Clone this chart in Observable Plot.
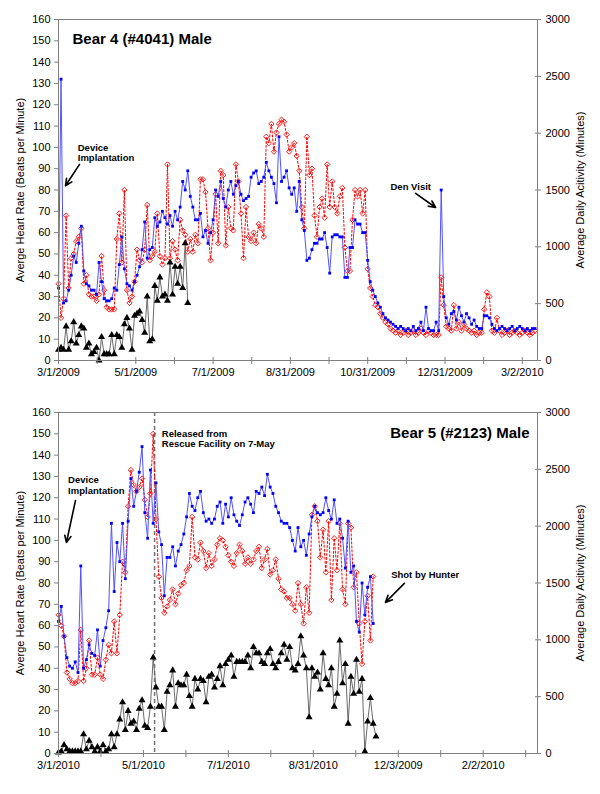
<!DOCTYPE html>
<html><head><meta charset="utf-8">
<script src="https://cdn.jsdelivr.net/npm/d3@7"></script>
<script src="https://cdn.jsdelivr.net/npm/@observablehq/plot@0.6"></script>
<style>
body{margin:0;background:#fff;}
#chart{width:600px;}
#chart svg{display:block;}
.panel{position:relative;width:600px;}
.ylab{position:absolute;font-family:Arial,'Liberation Sans',sans-serif;font-size:11px;color:#000;
  white-space:nowrap;transform:translate(-50%,-50%) rotate(-90deg);line-height:1;}
</style>
</head><body><div id="chart"></div>
<script>
// sampling interval (days) of all series arrays below
const step = 2;

// ---- Bear 4 (#4041), starting 3/1/2009 ----
const bear4Blue = [
34,132,27,28,33,40,49,46,55,63,
42,36,35,33,33,31,46,37,29,28,
28,29,34,33,45,58,43,36,35,33,
37,40,44,52,65,48,52,53,67,63,
65,70,67,64,68,63,70,66,72,84,
80,89,77,72,66,66,69,58,61,55,
60,66,80,77,84,76,72,80,84,78,
82,84,78,75,76,77,86,88,89,83,
84,86,93,89,86,83,74,105,84,86,
89,81,78,81,70,84,66,61,47,48,
52,55,55,57,57,60,53,41,58,59,
59,58,58,39,39,53,53,66,64,64,
60,60,47,37,33,30,27,25,22,20,
19,18,17,16,15,16,15,14,15,14,
16,14,15,18,14,25,15,14,14,18,
14,80,30,20,17,22,23,19,25,21,
18,22,20,17,19,16,15,15,21,21,
20,17,15,14,15,16,15,14,15,16,
14,15,16,15,14,15,14,15,15];
const bear4Red = [
36,20,29,68,34,48,50,56,58,62,
36,40,31,30,30,28,31,49,33,25,
24,24,24,57,69,46,80,33,27,30,
37,52,47,46,52,73,47,49,51,69,
49,45,48,92,48,56,52,47,66,61,
59,51,57,51,59,55,85,85,79,62,
47,60,78,55,89,87,54,72,62,61,
92,84,69,48,72,58,56,60,55,64,
62,58,105,102,111,98,107,111,113,112,
106,98,100,102,96,89,72,62,105,87,
90,68,58,72,76,67,92,72,84,72,
69,77,81,53,42,42,66,80,77,80,
69,80,43,34,30,26,25,22,20,18,
17,15,14,13,14,12,13,14,12,13,
14,12,13,15,13,12,14,13,12,12,
12,39,26,16,15,14,26,15,18,14,
17,15,14,13,14,12,13,13,24,32,
30,14,13,20,14,12,13,14,12,13,
14,13,12,13,14,13,12,13,14];
const bear4Black = [
5,6,5,16,5,9,18,8,12,16,
15,6,8,3,4,6,0,11,3,3,
3,12,3,12,11,6,17,20,15,5,
21,22,23,19,13,30,9,10,35,28,
39,30,31,28,46,31,44,36,44,34,
55,27];

// ---- Bear 5 (#2123), starting 3/1/2010 ----
const bear5Blue = [
62,69,55,45,41,40,43,38,88,40,
44,51,47,46,58,41,53,59,67,108,
76,99,90,108,82,109,129,116,123,132,
144,113,101,133,108,127,104,98,74,92,
92,97,88,95,98,103,111,122,116,114,
120,123,113,109,110,108,110,116,118,108,
117,111,120,112,109,107,112,118,120,117,
113,123,122,125,121,131,125,122,116,113,
109,108,108,106,100,95,106,97,100,93,
103,111,116,113,112,113,120,114,110,119,
108,110,101,87,109,85,88,62,57,80,
65,78,83,61];
const bear5Red = [
65,60,55,38,35,33,33,34,58,34,
40,53,37,37,45,37,35,44,51,47,
62,47,65,90,85,116,133,126,123,125,
129,119,111,122,150,110,83,73,66,69,
72,77,70,75,79,80,86,88,111,92,
91,99,95,87,94,88,91,98,101,100,
97,93,90,88,94,98,95,89,92,89,
91,95,97,87,91,96,84,86,91,82,
77,76,73,73,70,67,80,70,61,78,
66,112,116,109,92,105,85,109,72,101,
86,108,77,70,108,106,78,85,61,42,
62,74,53,83];
const bear5Black = [
0.5,1,4,2,1,1,1,1,1,9,
2,6,3,1,3,1,4,1,2,9,
3,9,16,24,11,20,14,15,11,21,
25,13,12,22,45,31,22,22,11,29,
32,39,22,33,32,32,37,27,22,35,
30,35,34,24,36,37,31,35,41,32,
42,44,46,36,43,43,43,43,46,40,
50,47,47,43,42,47,49,42,40,43,
47,51,44,50,40,39,42,55,46,40,
17,40,36,38,30,47,35,32,40,22,
28,53,33,42,14,36,28,44,29,35,
1,15,26,14,8];

// ---- axes ----
const leftTicks = [0,10,20,30,40,50,60,70,80,90,100,110,120,130,140,150,160];
const rightTicks = [0,500,1000,1500,2000,2500,3000];
const rightMax = 3000, leftMax = 160;
const xTicks4 = [0,61,122,183,244,305,366];
const xLabels4 = ["3/1/2009","5/1/2009","7/1/2009","8/31/2009","10/31/2009","12/31/2009","3/2/2010"];
const xMinor4 = [30.5,91.5,152.5,213.5,274.5,335.5];
const xMax4 = 378;
const xTicks5 = [0,61,122,183,244,305];
const xLabels5 = ["3/1/2010","5/1/2010","7/1/2010","8/31/2010","12/3/2009","2/2/2010"];
const xMinor5 = [30.5,91.5,152.5,213.5,274.5,335.5];
const xMax5 = 344;
const releaseDay = 69;

const leftLabel = "Averge Heart Rate (Beats per Minute)";
const rightLabel = "Average Daily Acitivity (Minutes)";
const title4 = "Bear 4 (#4041) Male";
const title5 = "Bear 5 (#2123) Male";

// ---- annotations (data coordinates: day, left-axis value) ----
const notes4 = [
  {day: 15.2, v: 97.6, text: "Device\nImplantation"},
  {day: 262.0, v: 81.8, text: "Den Visit"}
];
const arrows4 = [
  {x1: 16.6, y1: 92, x2: 5.5, y2: 82},
  {x1: 281.8, y1: 78.4, x2: 297.6, y2: 71.8}
];
const notes5 = [
  {day: 74.2, v: 147.8, text: "Released from\nRescue Facility on 7-May"},
  {day: 6.9, v: 126, text: "Device\nImplantation"},
  {day: 238.9, v: 84.1, text: "Shot by Hunter"}
];
const arrows5 = [
  {x1: 12.2, y1: 118.7, x2: 5.7, y2: 99},
  {x1: 248.4, y1: 79.8, x2: 234.8, y2: 70.9}
];

const toPts = vals => vals.map((v, i) => ({day: i * step, v}));
const ML = 58, MR = 63, MT = 19;

function panel(o) {
  const B = toPts(o.blue), R = toPts(o.red), K = toPts(o.black);
  const rightPos = rightTicks.map(t => t * leftMax / rightMax);
  const svg = Plot.plot({
    width: 600, height: o.height,
    marginTop: MT, marginBottom: o.marginBottom, marginLeft: ML, marginRight: MR,
    style: {fontFamily: "Arial, 'Liberation Sans', sans-serif", fontSize: "11px", background: "#fff", color: "#000"},
    x: {domain: [0, o.xMax], axis: null},
    y: {domain: [0, leftMax], axis: null},
    marks: [
      ...(o.extra || []),
      Plot.line(K, {x: "day", y: "v", stroke: "#6a6a6a", strokeWidth: 1}),
      Plot.line(R, {x: "day", y: "v", stroke: "#ff0000", strokeWidth: 1, strokeDasharray: "2,2"}),
      Plot.dot(R, {x: "day", y: "v", symbol: "diamond2", r: 2.4, stroke: "#ff0000", strokeWidth: 0.9}),
      Plot.line(B, {x: "day", y: "v", stroke: "#5252ff", strokeWidth: 1}),
      Plot.dot(B, {x: "day", y: "v", symbol: "square", r: 1.6, fill: "#0000ff"}),
      Plot.dot(K, {x: "day", y: "v", symbol: "triangle", r: 2.6, fill: "#000"}),
      Plot.frame({stroke: "#808080"}),
      Plot.axisY({ticks: leftTicks, tickSize: 4, tickPadding: 4, label: null, stroke: "#808080", fill: "#000"}),
      Plot.axisY({anchor: "right", ticks: rightPos,
        tickFormat: d => String(Math.round(d * rightMax / leftMax)), tickSize: 3, tickPadding: 5,
        label: null, stroke: "#808080", fill: "#000"}),
      Plot.axisY({anchor: "right", ticks: rightPos, tickFormat: () => "", tickSize: -3, label: null, stroke: "#808080"}),
      Plot.axisX({ticks: o.xTicks, tickFormat: d => o.xLabels[o.xTicks.indexOf(d)], tickSize: 4, tickPadding: 4,
        label: null, stroke: "#808080", fill: "#000"}),
      Plot.axisX({ticks: o.xMinor, tickFormat: () => "", tickSize: 4, label: null, stroke: "#808080"}),
      Plot.axisX({ticks: o.xTicks.concat(o.xMinor), tickFormat: () => "", tickSize: -3, label: null, stroke: "#808080"}),
      Plot.text([o.title], {text: d => d, frameAnchor: o.titleAnchor, dx: o.titleDx, dy: o.titleDy,
        textAnchor: o.titleTextAnchor, fontWeight: "bold", fontSize: 15}),
      Plot.text(o.notes, {x: "day", y: "v", text: "text", textAnchor: "start", fontWeight: "bold",
        fontSize: 9.5, lineHeight: 1.12}),
      Plot.arrow(o.arrows, {x1: "x1", y1: "y1", x2: "x2", y2: "y2", stroke: "#000", strokeWidth: 1.6,
        headLength: 7, headAngle: 50})
    ]
  });
  const wrap = document.createElement("div");
  wrap.className = "panel";
  wrap.append(svg);
  const midY = (MT + o.height - o.marginBottom) / 2;
  const l = document.createElement("div");
  l.className = "ylab"; l.textContent = leftLabel;
  l.style.left = "20px"; l.style.top = midY + "px";
  const r = document.createElement("div");
  r.className = "ylab"; r.textContent = rightLabel;
  r.style.left = "580px"; r.style.top = midY + "px";
  wrap.append(l, r);
  return wrap;
}

const chart = document.getElementById("chart");
chart.append(panel({
  height: 393, marginBottom: 33, xMax: xMax4, xTicks: xTicks4, xLabels: xLabels4, xMinor: xMinor4,
  blue: bear4Blue, red: bear4Red, black: bear4Black, notes: notes4, arrows: arrows4,
  title: title4, titleAnchor: "top-left", titleDx: 14, titleDy: 13.5, titleTextAnchor: "start"
}));
chart.append(panel({
  height: 401, marginBottom: 41, xMax: xMax5, xTicks: xTicks5, xLabels: xLabels5, xMinor: xMinor5,
  blue: bear5Blue, red: bear5Red, black: bear5Black, notes: notes5, arrows: arrows5,
  title: title5, titleAnchor: "top-right", titleDx: -8, titleDy: 14.7, titleTextAnchor: "end",
  extra: [Plot.ruleX([releaseDay], {x: d => d, stroke: "#707070", strokeWidth: 1.5, strokeDasharray: "4,3"})]
}));
</script>
</body></html>
